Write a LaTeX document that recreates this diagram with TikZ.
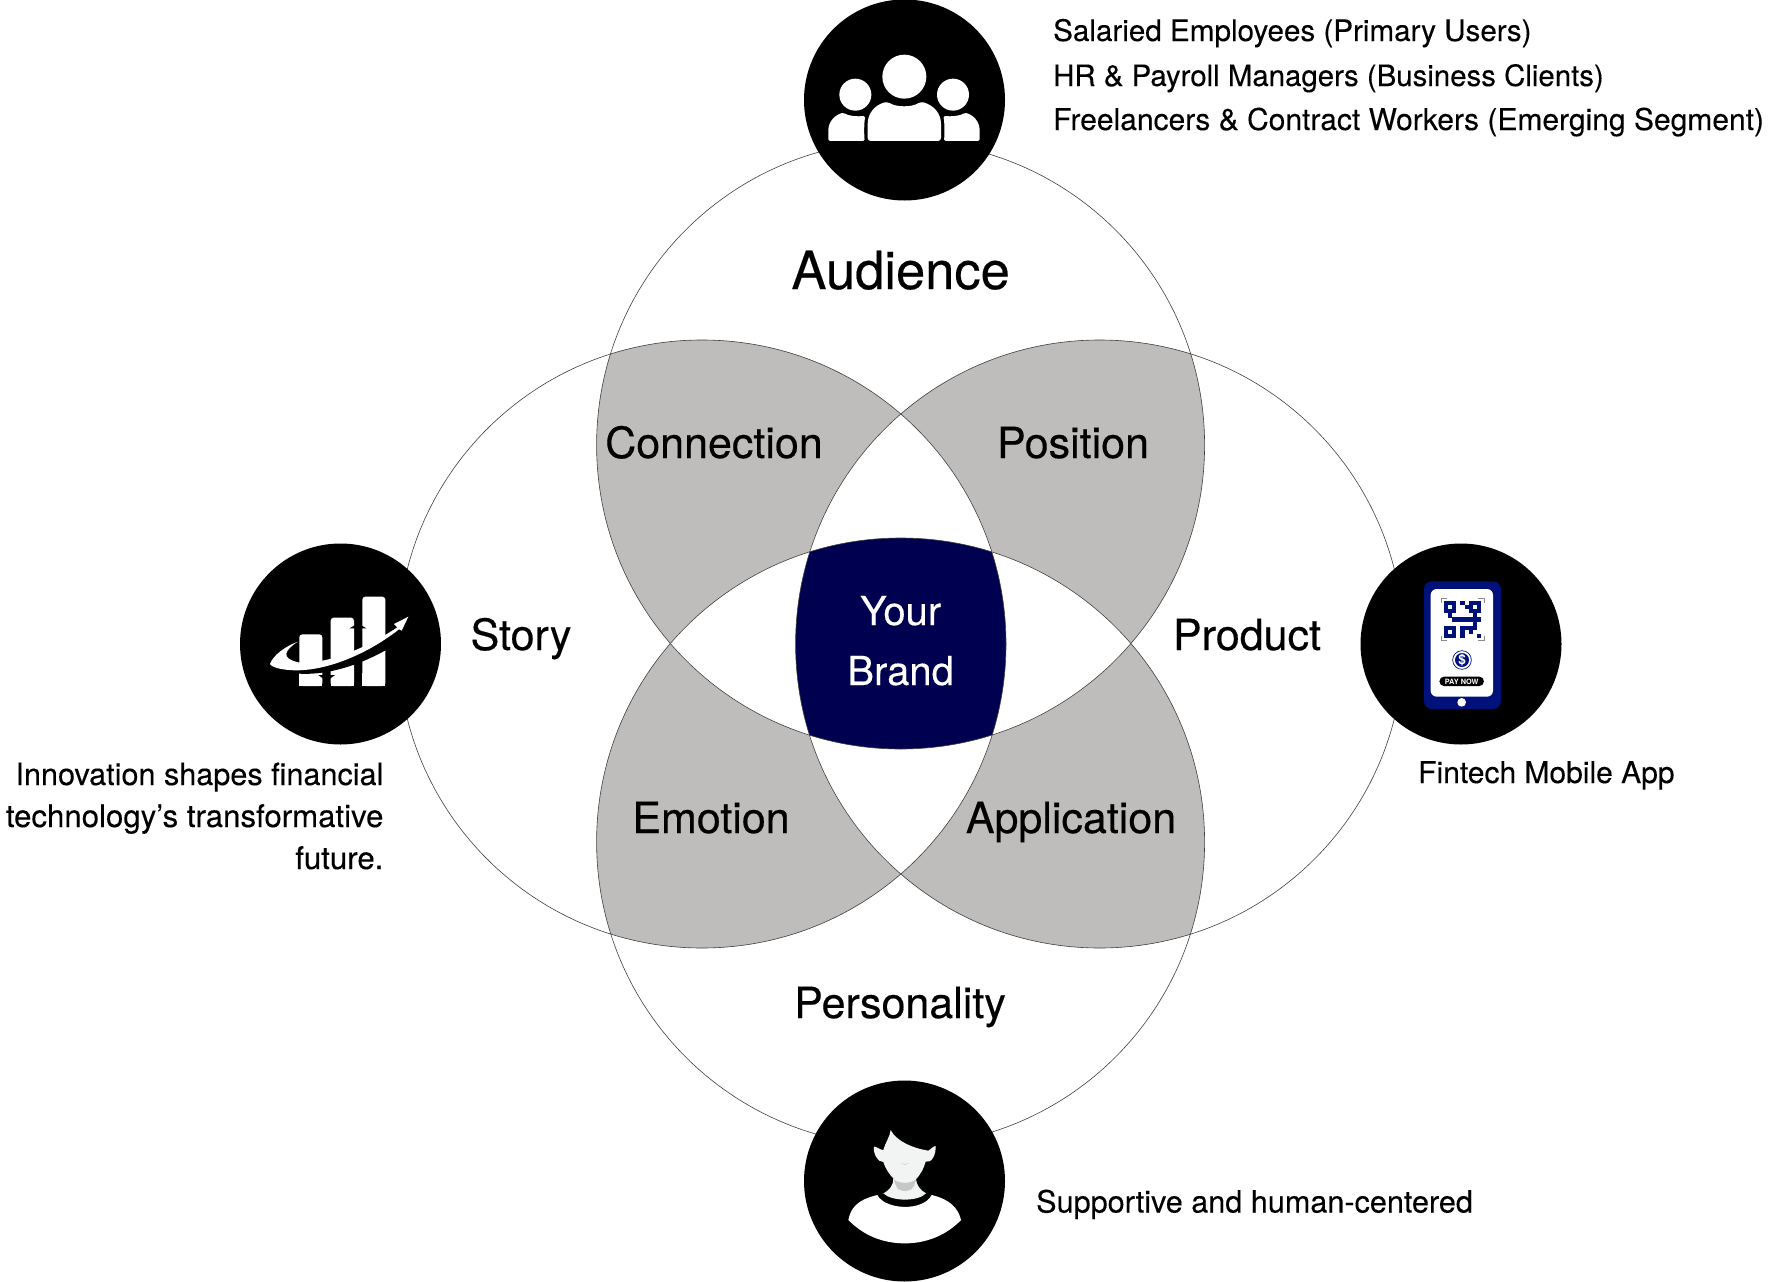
\documentclass[tikz,border=0pt]{standalone}
\usepackage{fontspec}
\setmainfont{TeX Gyre Heros}
\newfontfamily\medf[FakeBold=0.35]{TeX Gyre Heros}
\newfontfamily\notef[FakeBold=0.2]{TeX Gyre Heros}
\usetikzlibrary{shapes.misc}
\definecolor{lensgrey}{HTML}{BEBDBB}
\definecolor{brandnavy}{HTML}{000050}
\definecolor{phonenavy}{HTML}{00127A}
\definecolor{skin}{HTML}{F2F3F3}
\newcommand{\qrcell}[2]{\fill[phonenavy] (252+12.3*#1,183+12.3*#2) rectangle ++(12.6,12.6);}
\newcommand{\notesize}[1]{\notef\fontsize{#1}{32}\selectfont}
\tikzset{
  vennline/.style={draw=black!75,line width=0.6pt},
  iconbg/.style={fill=black},
  biglabel/.style={font=\medf\fontsize{52.5}{56}\selectfont,text=black,inner sep=0pt,anchor=base},
  midlabel/.style={font=\medf\fontsize{43}{46}\selectfont,text=black,inner sep=0pt,anchor=base},
  brandlabel/.style={font=\notef\fontsize{40}{44}\selectfont,text=white,inner sep=0pt,anchor=base},
  notelabel/.style={text=black,inner sep=0pt},
}
\begin{document}
\begin{tikzpicture}[x=1pt,y=-1pt]
\useasboundingbox (0,0) rectangle (1772,1282);
\fill[white] (0,0) rectangle (1772,1282);
\def\ct{(900.6,445) circle [radius=304]}
\def\cb{(900.6,842) circle [radius=304]}
\def\cl{(702,644) circle [radius=304]}
\def\cr{(1099.6,644) circle [radius=304]}
% pairs
\begin{scope}\clip \ct; \fill[lensgrey] \cl; \fill[lensgrey] \cr; \end{scope}
\begin{scope}\clip \cb; \fill[lensgrey] \cl; \fill[lensgrey] \cr; \end{scope}
% triples
\begin{scope}\clip \cl; \clip \cr; \fill[white] \ct; \fill[white] \cb; \end{scope}
\begin{scope}\clip \ct; \clip \cb; \fill[white] \cl; \fill[white] \cr; \end{scope}
% quadruple
\begin{scope}\clip \ct; \clip \cb; \clip \cl; \fill[brandnavy] \cr; \end{scope}
\draw[vennline] \ct; \draw[vennline] \cb; \draw[vennline] \cl; \draw[vennline] \cr;
% icon discs
\fill[iconbg] (904.5,100) circle [radius=100.5];
\fill[iconbg] (340.5,644) circle [radius=100.5];
\fill[iconbg] (1461,644) circle [radius=100.5];
\fill[iconbg] (904.5,1181) circle [radius=100.5];
% people icon
\begin{scope}[shift={(800,0)},scale=0.33333]
\fill[white] (313,230) circle [radius=66];
\fill[white] (166,284) circle [radius=48];
\fill[white] (459,284) circle [radius=48];
\fill[white,rounded corners=3pt] (203,423) -- (203,380) .. controls (203,340) and (225,315) .. (262,305) .. controls (290,322) and (335,322) .. (362,305) .. controls (400,315) and (423,340) .. (423,380) -- (423,423) -- cycle;
\fill[white,rounded corners=1.5pt] (85,423) -- (85,395) .. controls (85,365) and (105,345) .. (130,338) .. controls (145,348) and (170,350) .. (196,348) .. controls (192,370) and (192,400) .. (194,423) -- cycle;
\fill[white,rounded corners=1.5pt] (539,423) -- (539,395) .. controls (539,365) and (520,345) .. (495,338) .. controls (480,348) and (455,350) .. (430,348) .. controls (434,370) and (434,400) .. (432,423) -- cycle;
\end{scope}
% growth icon
\begin{scope}[shift={(235,540)},scale=0.33333]
\fill[white,rounded corners=3pt] (193,438) -- (193,283) -- (262,283) -- (262,438) -- cycle;
\fill[white] (193,438) rectangle (262,400);
\fill[white,rounded corners=3pt] (287,438) -- (287,233) -- (357,233) -- (357,438) -- cycle;
\fill[white] (287,438) rectangle (357,400);
\fill[white,rounded corners=3pt] (382,438) -- (382,170) -- (451,170) -- (451,438) -- cycle;
\fill[white] (382,438) rectangle (451,400);
\fill[black] (250,405) -- (300,405) -- (275,424) -- cycle;
\fill[black] (344,265) -- (394,265) -- (369,250) -- cycle;
\fill[black] (180,300) .. controls (130,335) and (130,365) .. (190,374) .. controls (300,385) and (420,330) .. (500,258) -- (510,295) .. controls (400,370) and (280,410) .. (180,400) .. controls (110,395) and (90,365) .. (120,340) -- cycle;
\fill[white] (105,372) .. controls (115,345) and (150,320) .. (188,305) .. controls (150,330) and (135,355) .. (190,367) .. controls (280,375) and (400,320) .. (487,262) -- (477,252) -- (520,230) -- (500,272) -- (492,268) .. controls (400,340) and (280,392) .. (180,391) .. controls (140,390) and (110,382) .. (105,372) -- cycle;
\end{scope}
% phone icon
\begin{scope}[shift={(1360,540)},scale=0.33333]
\fill[phonenavy,rounded corners=8pt] (192,124) rectangle (423,507);
\fill[white,rounded corners=6pt] (212,147) rectangle (399,470);
\fill[white] (305,487) circle [radius=13];
\draw[black!45,line width=0.5pt] (243,188) |- (262,175) (353,175) -| (372,188) (372,288) |- (353,300) (262,300) -| (243,288);
\foreach \c/\r in {0/0,1/0,2/0,0/1,2/1,0/2,1/2,2/2,
  6/0,7/0,8/0,6/1,8/1,6/2,7/2,8/2,
  0/6,1/6,2/6,0/7,2/7,0/8,1/8,2/8,
  4/0,5/1,1/3,7/3,2/4,3/4,4/4,5/4,6/4,7/4,7/5,8/4,
  4/6,5/6,6/6,7/6,4/7,6/7,4/8,8/8}{\qrcell{\c}{\r}}
\draw[phonenavy,line width=0.7pt,fill=white] (306,360) circle [radius=28];
\fill[phonenavy] (306,360) circle [radius=21];
\node[inner sep=0pt,text=white,font=\bfseries\fontsize{13.5}{14}\selectfont] (dollar) at (306,360) {\$};
\node[fill=black,rounded rectangle,minimum width=44.5pt,minimum height=9.5pt,inner sep=0pt,text=white,font=\bfseries\fontsize{7.3}{8}\selectfont] (paynow) at (305,424) {PAY NOW};
\end{scope}
% person icon
\begin{scope}[shift={(800,1080)},scale=0.33333]
\fill[white] (145,420) .. controls (152,385) and (170,360) .. (232,345) .. controls (255,390) and (370,395) .. (395,345) .. controls (450,358) and (475,385) .. (483,420) .. controls (440,465) and (380,490) .. (315,490) .. controls (245,490) and (190,465) .. (145,420) -- cycle;
\fill[skin] (272,150) .. controls (270,170) and (255,190) .. (250,210) .. controls (240,210) and (228,198) .. (222,200) .. controls (218,220) and (235,248) .. (250,246) .. controls (258,270) and (270,285) .. (280,295) .. controls (280,315) and (270,330) .. (250,340) .. controls (275,365) and (355,365) .. (378,340) .. controls (360,330) and (350,315) .. (348,298) .. controls (360,285) and (372,265) .. (377,245) .. controls (395,250) and (408,225) .. (407,198) .. controls (400,198) and (392,208) .. (385,212) .. controls (340,205) and (290,185) .. (272,150) -- cycle;
\fill[black!22] (280,298) .. controls (300,312) and (330,312) .. (348,298) .. controls (345,315) and (340,325) .. (330,330) .. controls (315,335) and (300,333) .. (292,325) -- cycle;
\draw[black!25,line width=0.3pt] (306,250) .. controls (312,255) and (318,255) .. (324,250);
\end{scope}
% labels
\node[biglabel] (audience) at (900.6,289) {Audience};
\node[midlabel] (connection) at (714,458) {Connection};
\node[midlabel] (position) at (1073,458) {Position};
\node[midlabel] (story) at (521,650) {Story};
\node[midlabel] (product) at (1247,650) {Product};
\node[brandlabel] (your) at (900.6,625) {Your};
\node[brandlabel] (brand) at (900.6,685) {Brand};
\node[midlabel] (emotion) at (711,833) {Emotion};
\node[midlabel] (application) at (1071,833) {Application};
\node[midlabel] (personality) at (900,1018) {Personality};
\node[notelabel,anchor=base west,font=\notesize{29.6}] (aud1) at (1053,41) {Salaried Employees (Primary Users)};
\node[notelabel,anchor=base west,font=\notesize{29.4}] (aud2) at (1053,86) {HR \& Payroll Managers (Business Clients)};
\node[notelabel,anchor=base west,font=\notesize{30}] (aud3) at (1053,130) {Freelancers \& Contract Workers (Emerging Segment)};
\node[notelabel,anchor=base east,font=\notesize{30.6}] (inn1) at (383.6,785) {Innovation shapes financial};
\node[notelabel,anchor=base east,font=\notesize{31.2}] (inn2) at (383.6,827) {technology’s transformative};
\node[notelabel,anchor=base east,font=\notesize{31.2}] (inn3) at (383.6,869) {future.};
\node[notelabel,anchor=base west,font=\notesize{30}] (app) at (1418,783) {Fintech Mobile App};
\node[notelabel,anchor=base west,font=\notesize{30.6}] (support) at (1036,1212.5) {Supportive and human-centered};
\end{tikzpicture}
\end{document}
